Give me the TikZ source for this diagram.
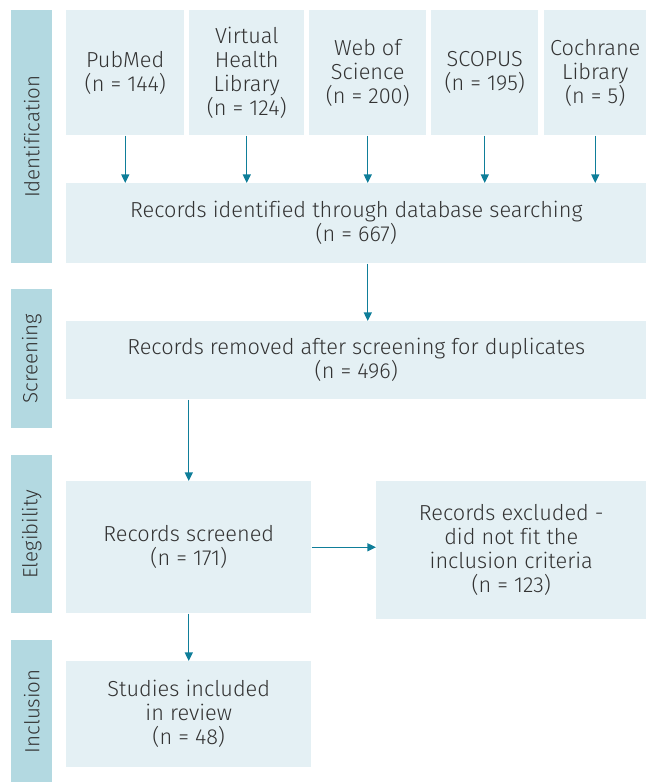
\documentclass[tikz,border=0pt]{standalone}
\usepackage{fontspec}
\setmainfont{Fira Sans}[UprightFont={* Light}, Ligatures=NoCommon]
\usetikzlibrary{arrows.meta}
\definecolor{boxc}{HTML}{E4F0F4}
\definecolor{barc}{HTML}{B3D9E1}
\definecolor{arrc}{HTML}{0F7E99}
\definecolor{txtc}{HTML}{333333}
\begin{document}
\begin{tikzpicture}[x=0.75pt,y=-0.75pt,
  every node/.style={font=\fontsize{16.3pt}{18pt}\selectfont, text=txtc},
  box/.style={fill=boxc, inner sep=0pt, anchor=north west, align=center},
  bar/.style={fill=barc, inner sep=0pt, anchor=north west, align=center},
  side/.style={rotate=90, font=\fontsize{15.4pt}{18pt}\selectfont},
  arr/.style={draw=arrc, line width=1.05pt, -{Triangle[length=6.5pt,width=6pt]}}]
\useasboundingbox (0,0) rectangle (646,782);
% side bars
\node[bar, minimum width=41*0.75pt, minimum height=253*0.75pt] (bid) at (11,10) {};
\node[side] at (bid.center) {Identification};
\node[bar, minimum width=41*0.75pt, minimum height=139*0.75pt] (bsc) at (11,289) {};
\node[side] at (bsc.center) {Screening};
\node[bar, minimum width=41*0.75pt, minimum height=158*0.75pt] (bel) at (11,455) {};
\node[side] at (bel.center) {Elegibility};
\node[bar, minimum width=41*0.75pt, minimum height=142*0.75pt] (bin) at (11,640) {};
\node[side] at (bin.center) {Inclusion};
% database boxes
\node[box, minimum width=118*0.75pt, minimum height=125*0.75pt] (pm) at (66,10) {PubMed\\(n = 144)};
\node[box, minimum width=115*0.75pt, minimum height=125*0.75pt] (vhl) at (189,10) {Virtual\\Health\\Library\\(n = 124)};
\node[box, minimum width=117*0.75pt, minimum height=125*0.75pt] (wos) at (309,10) {Web of\\Science\\(n = 200)};
\node[box, minimum width=107*0.75pt, minimum height=125*0.75pt] (sco) at (431,10) {SCOPUS\\(n = 195)};
\node[box, minimum width=102*0.75pt, minimum height=125*0.75pt] (coc) at (544,10) {Cochrane\\Library\\(n = 5)};
% main boxes
\node[box, minimum width=580*0.75pt, minimum height=80*0.75pt] (rid) at (66,183) {Records identified through database searching\\(n = 667)};
\node[box, minimum width=580*0.75pt, minimum height=78*0.75pt] (rrem) at (66,321) {Records removed after screening for duplicates\\(n = 496)};
\node[box, minimum width=245*0.75pt, minimum height=132*0.75pt] (scr) at (66,481) {Records screened\\(n = 171)};
\node[box, minimum width=270*0.75pt, minimum height=138*0.75pt] (exc) at (376,481) {Records excluded -\\did not fit the\\inclusion criteria\\(n = 123)};
\node[box, minimum width=245*0.75pt, minimum height=106*0.75pt] (inc) at (66,661) {Studies included\\in review\\(n = 48)};
% arrows
\draw[arr] (pm.south) -- (pm.south |- rid.north);
\draw[arr] (vhl.south) -- (vhl.south |- rid.north);
\draw[arr] (wos.south) -- (wos.south |- rid.north);
\draw[arr] (sco.south) -- (sco.south |- rid.north);
\draw[arr] (coc.south) -- (coc.south |- rid.north);
\draw[arr] (wos.south |- rid.south) -- (wos.south |- rrem.north);
\draw[arr] (scr.north |- rrem.south) -- (scr.north);
\draw[arr] (scr.east) -- (scr.east -| exc.west);
\draw[arr] (scr.south) -- (inc.north);
\end{tikzpicture}
\end{document}
